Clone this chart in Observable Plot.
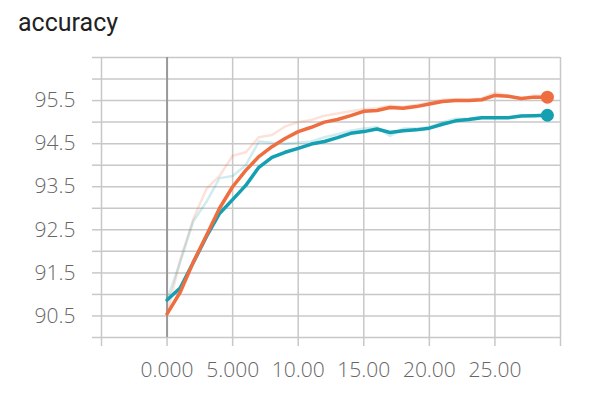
<!DOCTYPE html>
<html>
<head>
<meta charset="utf-8">
<script src="https://cdn.jsdelivr.net/npm/d3@7"></script>
<script src="https://cdn.jsdelivr.net/npm/@observablehq/plot@0.6"></script>
<style>
  html, body { margin: 0; padding: 0; background: #fff; }
  #title { height: 40px; font-family: Roboto, sans-serif; font-size: 25px; color: #222; padding-left: 18px; line-height: 46px; box-sizing: border-box; }
  #chart svg { display: block; }
</style>
</head>
<body>
<div id="title">accuracy</div>
<div id="chart"></div>
<script>
const steps = d3.range(0, 30);
const orangeRaw = [90.55, 91.8, 92.75, 93.45, 93.75, 94.22, 94.3, 94.65, 94.7, 94.9, 95.0, 95.05, 95.15, 95.2, 95.25, 95.3, 95.32, 95.38, 95.35, 95.4, 95.45, 95.52, 95.53, 95.52, 95.55, 95.68, 95.62, 95.55, 95.62, 95.6];
const orangeSmooth = [90.55, 91.05, 91.75, 92.37, 93.0, 93.5, 93.88, 94.2, 94.43, 94.62, 94.78, 94.88, 95.0, 95.06, 95.15, 95.25, 95.27, 95.34, 95.32, 95.36, 95.42, 95.48, 95.5, 95.5, 95.52, 95.62, 95.6, 95.55, 95.58, 95.58];
const tealRaw = [90.87, 91.75, 92.7, 93.15, 93.7, 93.75, 94.0, 94.55, 94.52, 94.5, 94.52, 94.55, 94.65, 94.72, 94.8, 94.85, 94.88, 94.68, 94.85, 94.85, 94.88, 95.0, 95.08, 95.08, 95.12, 95.1, 95.1, 95.15, 95.16, 95.18];
const tealSmooth = [90.87, 91.15, 91.74, 92.34, 92.88, 93.2, 93.53, 93.95, 94.18, 94.3, 94.39, 94.49, 94.55, 94.64, 94.74, 94.78, 94.84, 94.76, 94.8, 94.82, 94.86, 94.95, 95.03, 95.06, 95.1, 95.1, 95.1, 95.14, 95.15, 95.16];
const xTicks = [-5, 0, 5, 10, 15, 20, 25, 30];
const xLabels = ["", "0.000", "5.000", "10.00", "15.00", "20.00", "25.00", ""];
const yTicks = d3.range(90, 96.51, 0.5);
const yLabels = ["90.5", "91.5", "92.5", "93.5", "94.5", "95.5"];

const ORANGE = "#ef6e40";
const TEAL = "#15a0b2";

const mk = (arr) => steps.map((s, i) => ({x: s, y: arr[i]}));
const last = steps.length - 1;
const xFmt = (d) => xLabels[xTicks.indexOf(d)];
const yFmt = (d) => { const s = d.toFixed(1); return yLabels.includes(s) ? s : ""; };
const blank = () => "";

const chart = Plot.plot({
  width: 614,
  height: 353,
  marginTop: 17,
  marginLeft: 101,
  marginRight: 54,
  marginBottom: 56,
  style: {fontFamily: "'Open Sans', sans-serif", fontSize: "21px", color: "#666", background: "#fff"},
  x: {domain: [-5, 30], label: null},
  y: {domain: [90, 96.5], label: null},
  marks: [
    Plot.gridX(xTicks, {stroke: "#c8c8c8", strokeOpacity: 1, strokeWidth: 1.5}),
    Plot.gridY(yTicks, {stroke: "#c8c8c8", strokeOpacity: 1, strokeWidth: 1.5}),
    Plot.axisX({ticks: xTicks, tickFormat: blank, tickSize: 9, stroke: "#c8c8c8", strokeWidth: 1.5, label: null}),
    Plot.axisY({ticks: yTicks, tickFormat: blank, tickSize: 9, stroke: "#c8c8c8", strokeWidth: 1.5, label: null}),
    Plot.axisX({ticks: xTicks, tickFormat: xFmt, tickSize: 0, dy: 16, fill: "#666", fontWeight: 300, label: null}),
    Plot.axisY({ticks: yTicks, tickFormat: yFmt, tickSize: 0, dx: -17, fill: "#666", fontWeight: 300, label: null}),
    Plot.ruleX([0], {stroke: "#999", strokeWidth: 2}),
    Plot.line(mk(orangeRaw), {x: "x", y: "y", stroke: ORANGE, strokeOpacity: 0.2, strokeWidth: 2.5}),
    Plot.line(mk(tealRaw), {x: "x", y: "y", stroke: TEAL, strokeOpacity: 0.2, strokeWidth: 2.5}),
    Plot.line(mk(tealSmooth), {x: "x", y: "y", stroke: TEAL, strokeWidth: 3.5}),
    Plot.line(mk(orangeSmooth), {x: "x", y: "y", stroke: ORANGE, strokeWidth: 3.5}),
    Plot.dot([{x: steps[last], y: orangeSmooth[last]}], {x: "x", y: "y", r: 6.5, fill: ORANGE, stroke: null}),
    Plot.dot([{x: steps[last], y: tealSmooth[last]}], {x: "x", y: "y", r: 6.5, fill: TEAL, stroke: null})
  ]
});
document.getElementById("chart").appendChild(chart);
</script>
</body>
</html>
